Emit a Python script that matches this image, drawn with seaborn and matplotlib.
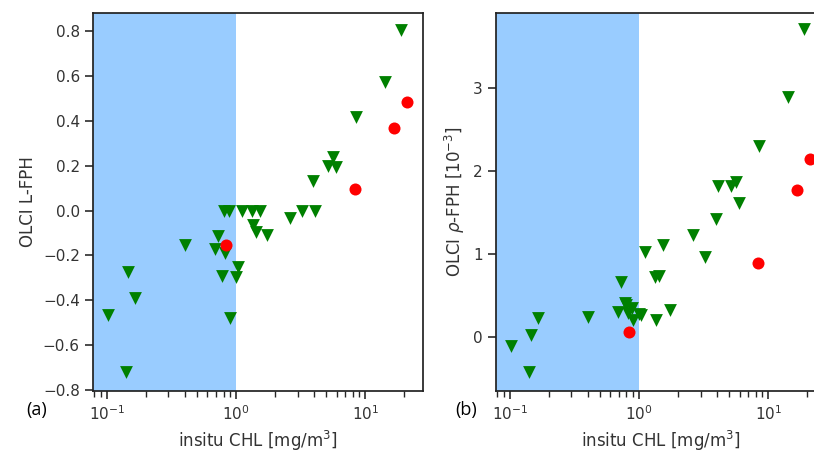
import matplotlib
matplotlib.use("Agg")
import matplotlib.pyplot as plt
import seaborn as sns
import numpy as np
import pandas as pd

# ---- data ----
chl_green = [0.103, 0.141, 0.147, 0.166, 0.405, 0.69, 0.73, 0.775, 0.80, 0.82,
             0.88, 0.90, 1.0, 1.04, 1.12, 1.33, 1.36, 1.42, 1.53, 1.73,
             2.6, 3.24, 3.96, 4.1, 5.1, 5.66, 5.93, 8.47, 14.2, 18.9]
lfph_green = [-0.465, -0.718, -0.272, -0.391, -0.153, -0.172, -0.113, -0.291, 0.0, -0.189,
              0.0, -0.48, -0.297, -0.25, 0.0, 0.0, -0.064, -0.094, 0.0, -0.108,
              -0.034, 0.0, 0.132, 0.0, 0.201, 0.241, 0.196, 0.419, 0.575, 0.807]
rfph_green = [-0.10, -0.414, 0.028, 0.229, 0.249, 0.31, 0.67, 0.41, 0.39, 0.29,
              0.35, 0.21, 0.28, 0.27, 1.03, 0.73, 0.21, 0.74, 1.11, 0.33,
              1.23, 0.97, 1.43, 1.82, 1.82, 1.875, 1.62, 2.305, 2.89, 3.71]

chl_red = [0.83, 8.3, 16.6, 20.9]
lfph_red = [-0.155, 0.097, 0.367, 0.486]
rfph_red = [0.06, 0.90, 1.775, 2.15]

green_df = pd.DataFrame({"chl": chl_green, "lfph": lfph_green, "rfph": rfph_green})
red_df = pd.DataFrame({"chl": chl_red, "lfph": lfph_red, "rfph": rfph_red})

sns.set_theme(style="ticks", context="notebook")
plt.rcParams["font.family"] = ["DejaVu Sans"]

fig = plt.figure(figsize=(8.14, 4.54), dpi=100)
axL = fig.add_axes([0.1143, 0.1388, 0.4054, 0.8326])
axR = fig.add_axes([0.6093, 0.1388, 0.4054, 0.8326])

xlim = (0.0783, 27.9)
blue = "#99ccff"

panels = [(axL, "lfph", (-0.8045, 0.8816), "OLCI L-FPH"),
          (axR, "rfph", (-0.647, 3.907), r"OLCI $\rho$-FPH [$10^{-3}$]")]

for ax, col, ylim, ylabel in panels:
    ax.axvspan(0.01, 1.0, color=blue, lw=0, zorder=0)
    sns.scatterplot(data=green_df, x="chl", y=col, ax=ax, marker="v",
                    color="green", s=85, linewidth=0, zorder=3)
    sns.scatterplot(data=red_df, x="chl", y=col, ax=ax, marker="o",
                    color="red", s=75, linewidth=0, zorder=4)
    ax.set_xscale("log")
    ax.set_xlim(*xlim)
    ax.set_ylim(*ylim)
    ax.set_xlabel("insitu CHL [mg/m$^3$]", fontsize=12, color="#333333")
    ax.set_ylabel(ylabel, fontsize=12, color="#333333")
    ax.tick_params(labelsize=11, colors="#333333")
    for s in ax.spines.values():
        s.set_color("#222222")

axL.set_yticks([-0.8, -0.6, -0.4, -0.2, 0.0, 0.2, 0.4, 0.6, 0.8])
axR.set_yticks([0, 1, 2, 3])

fig.text(0.0448, 0.097, "(a)", fontsize=13, family="Open Sans", ha="center", va="center", color="black")
fig.text(0.5725, 0.097, "(b)", fontsize=13, family="Open Sans", ha="center", va="center", color="black")

fig.savefig("out.png", dpi=100)
